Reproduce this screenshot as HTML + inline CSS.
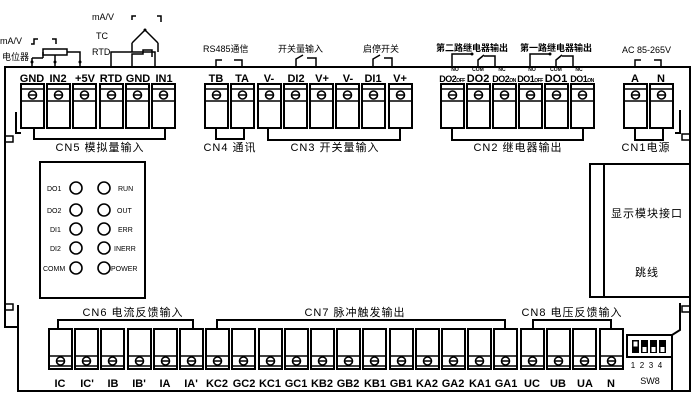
<!DOCTYPE html>
<html><head><meta charset="utf-8"><style>
html,body{margin:0;padding:0;background:#fff;width:699px;height:401px;overflow:hidden}
svg{display:block}
text{font-family:"Liberation Sans","Noto Sans CJK SC",sans-serif;fill:#000}
.b{font-weight:bold;font-size:11px}
.c{font-size:11px}
.s{font-size:8px}
</style></head><body>
<svg width="699" height="401" viewBox="0 0 699 401" xmlns="http://www.w3.org/2000/svg">
<defs>
<g id="tt" fill="none" stroke="#000">
<rect x="0" y="0" width="23" height="44" stroke-width="2"/>
<line x1="0" y1="5" x2="23" y2="5" stroke-width="1.5"/>
<line x1="0" y1="17" x2="23" y2="17" stroke-width="1.5"/>
<circle cx="11.5" cy="11" r="4" stroke-width="1.6"/>
<line x1="7.5" y1="11" x2="15.5" y2="11" stroke-width="1.5"/>
</g>
<g id="bt" fill="none" stroke="#000">
<rect x="0" y="0" width="23" height="40" stroke-width="2"/>
<line x1="0" y1="27" x2="23" y2="27" stroke-width="1.5"/>
<line x1="0" y1="37" x2="23" y2="37" stroke-width="1.5"/>
<circle cx="11.5" cy="32" r="4" stroke-width="1.6"/>
<line x1="7.5" y1="32" x2="15.5" y2="32" stroke-width="1.5"/>
</g>
</defs>
<g fill="none" stroke="#000" stroke-width="2">
<path d="M5,67 H690 V391 H18 V327 H5 Z"/>
<path d="M16,112 V133 H21 M18,305 V327"/>
<path d="M680,110 V133 H675 M680,303 V330 L672,335 V391"/>
<path d="M5,136 h8 v6 h-8 M5,304 h8 v6 h-8 M690,134 h-8 v6 h8 M690,306 h-8 v6 h8" stroke-width="1.5"/>
<rect x="40" y="162" width="105" height="136"/>
<rect x="590" y="164" width="100" height="133"/>
<line x1="604" y1="164" x2="604" y2="297"/>
<path d="M34,128 V139 H165 V128"/>
<path d="M216,128 V139 H244 V128"/>
<path d="M268,128 V140 H400 V128"/>
<path d="M452,128 V140 H583 V128"/>
<path d="M635,128 V140 H663 V128"/>
<path d="M58,330 V320 H193 V330"/>
<path d="M217,330 V320 H505 V330"/>
<path d="M533,330 V320 H611 V330"/>
<rect x="627" y="335" width="45" height="22"/>
</g>
<g fill="#000">
<rect x="632" y="340" width="7" height="13"/><rect x="641" y="340" width="7" height="13"/><rect x="650" y="340" width="7" height="13"/><rect x="659" y="340" width="7" height="13"/>
</g>
<g fill="#fff"><rect x="633.5" y="341.5" width="4" height="5"/><rect x="642.5" y="347" width="4" height="5"/><rect x="651.5" y="347" width="4" height="5"/><rect x="660.5" y="347" width="4" height="5"/></g>
<g transform="translate(0,84)">
<use href="#tt" x="21"/><use href="#tt" x="47"/><use href="#tt" x="73"/><use href="#tt" x="100"/><use href="#tt" x="126"/><use href="#tt" x="152"/>
<use href="#tt" x="205"/><use href="#tt" x="231"/><use href="#tt" x="258"/><use href="#tt" x="284"/><use href="#tt" x="310"/><use href="#tt" x="336"/><use href="#tt" x="362"/><use href="#tt" x="389"/>
<use href="#tt" x="441"/><use href="#tt" x="467"/><use href="#tt" x="493"/><use href="#tt" x="519"/><use href="#tt" x="545"/><use href="#tt" x="571"/>
<use href="#tt" x="624"/><use href="#tt" x="650"/>
</g>
<g transform="translate(0,329)">
<use href="#bt" x="49"/><use href="#bt" x="75"/><use href="#bt" x="101"/><use href="#bt" x="128"/><use href="#bt" x="154"/><use href="#bt" x="180"/><use href="#bt" x="206"/><use href="#bt" x="232"/><use href="#bt" x="259"/><use href="#bt" x="285"/><use href="#bt" x="311"/><use href="#bt" x="337"/><use href="#bt" x="363"/><use href="#bt" x="390"/><use href="#bt" x="416"/><use href="#bt" x="442"/><use href="#bt" x="468"/><use href="#bt" x="494"/><use href="#bt" x="521"/><use href="#bt" x="547"/><use href="#bt" x="573"/><use href="#bt" x="600"/>
</g>
<g class="b" text-anchor="middle">
<text x="32" y="82">GND</text><text x="58" y="82">IN2</text><text x="85" y="82">+5V</text><text x="111" y="82">RTD</text><text x="138" y="82">GND</text><text x="164" y="82">IN1</text>
<text x="216" y="82">TB</text><text x="242" y="82">TA</text><text x="269" y="82">V-</text><text x="296" y="82">DI2</text><text x="322" y="82">V+</text><text x="348" y="82">V-</text><text x="373" y="82">DI1</text><text x="400" y="82">V+</text>
<text x="452" y="82" font-size="9" letter-spacing="-0.5">DO2<tspan font-size="5">OFF</tspan></text><text x="478" y="82">DO2</text><text x="504" y="82" font-size="9" letter-spacing="-0.5">DO2<tspan font-size="5">ON</tspan></text>
<text x="530" y="82" font-size="9" letter-spacing="-0.5">DO1<tspan font-size="5">OFF</tspan></text><text x="556" y="82">DO1</text><text x="582" y="82" font-size="9" letter-spacing="-0.5">DO1<tspan font-size="5">ON</tspan></text>
<text x="635" y="82">A</text><text x="661" y="82">N</text>
</g>
<g font-size="5" text-anchor="middle" font-weight="bold">
<text x="455" y="71">NO</text><text x="478" y="71">COM</text><text x="502" y="71">NC</text>
<text x="532" y="71">NO</text><text x="556" y="71">COM</text><text x="579" y="71">NC</text>
</g>
<g class="b" text-anchor="middle">
<text x="60" y="387">IC</text><text x="87" y="387">IC'</text><text x="113" y="387">IB</text><text x="139" y="387">IB'</text><text x="165" y="387">IA</text><text x="191" y="387">IA'</text><text x="217" y="387">KC2</text><text x="244" y="387">GC2</text><text x="270" y="387">KC1</text><text x="296" y="387">GC1</text><text x="322" y="387">KB2</text><text x="348" y="387">GB2</text><text x="375" y="387">KB1</text><text x="401" y="387">GB1</text><text x="427" y="387">KA2</text><text x="453" y="387">GA2</text><text x="480" y="387">KA1</text><text x="506" y="387">GA1</text><text x="532" y="387">UC</text><text x="558" y="387">UB</text><text x="585" y="387">UA</text><text x="611" y="387">N</text>
</g>
<g class="s" text-anchor="middle"><text x="633" y="368">1</text><text x="642" y="368">2</text><text x="651" y="368">3</text><text x="660" y="368">4</text><text x="650" y="384" font-size="9">SW8</text></g>
<g class="c" text-anchor="middle" letter-spacing="1">
<text x="100" y="151">CN5 模拟量输入</text>
<text x="230" y="151">CN4 通讯</text>
<text x="335" y="151">CN3 开关量输入</text>
<text x="518" y="151">CN2 继电器输出</text>
<text x="646" y="151">CN1电源</text>
<text x="133" y="316">CN6 电流反馈输入</text>
<text x="355" y="316">CN7 脉冲触发输出</text>
<text x="572" y="316">CN8 电压反馈输入</text>
<text x="647" y="217">显示模块接口</text>
<text x="647" y="276">跳线</text>
</g>
<g fill="none" stroke="#000" stroke-width="1.6">
<circle cx="76" cy="188" r="6"/><circle cx="104" cy="188" r="6"/>
<circle cx="76" cy="210" r="6"/><circle cx="104" cy="210" r="6"/>
<circle cx="76" cy="229" r="6"/><circle cx="104" cy="229" r="6"/>
<circle cx="76" cy="248" r="6"/><circle cx="104" cy="248" r="6"/>
<circle cx="76" cy="268" r="6"/><circle cx="104" cy="268" r="6"/>
</g>
<g font-size="7">
<text x="47" y="191">DO1</text><text x="47" y="213">DO2</text><text x="50" y="232">DI1</text><text x="50" y="251">DI2</text><text x="43" y="271">COMM</text>
<text x="118" y="191">RUN</text><text x="117" y="213">OUT</text><text x="118" y="232">ERR</text><text x="114" y="251">INERR</text><text x="111" y="271">POWER</text>
</g>
<g font-size="9">
<text x="0" y="44">mA/V</text><text x="2" y="60">电位器</text>
<text x="92" y="20">mA/V</text><text x="96" y="39">TC</text><text x="92" y="55">RTD</text>
<text x="203" y="52">RS485通信</text><text x="278" y="52">开关量输入</text><text x="363" y="52">启停开关</text>
<text x="436" y="51" font-weight="bold">第二路继电器输出</text><text x="520" y="51" font-weight="bold">第一路继电器输出</text>
<text x="622" y="53">AC 85-265V</text>
</g>
<g fill="none" stroke="#000" stroke-width="1.5">
<path d="M32,67 V58 M31,44 h3 v-5 h4 M52,39 h4 v5"/>
<path d="M32,58 H43 M43,52 V58"/>
<rect x="43" y="49" width="24" height="6"/>
<path d="M67,52 H80 V67 M55,55 V67"/>
<path d="M111,67 V52 H155 V67 M132,67 V54 H143 V50 H152 V57"/>
<path d="M132,43 L145,30 L158,43 M132,43 V52 M158,43 V52"/>
<path d="M132,20 V16 h4 M157,16 h4 V22"/>
<path d="M216,67 V60 h6 M234,60 h8 V67"/>
<path d="M296,67 V59 L303,55 M307,58 h9 V67"/>
<path d="M373,67 V59 L380,55 M384,58 h8 V67"/>
<path d="M452,67 V54 H472 M478,67 V60 L484,55 M484,56 H495 V67"/>
<path d="M530,67 V54 H550 M556,67 V60 L562,55 M562,56 H573 V67"/>
<path d="M635,67 V60 h6 M654,60 h7 V67"/>
</g>
<g fill="#000"><circle cx="32" cy="62" r="1.5"/><circle cx="55" cy="62" r="1.5"/><circle cx="80" cy="62" r="1.5"/><circle cx="145" cy="30" r="1.5"/><circle cx="472" cy="54" r="1.5"/><circle cx="550" cy="54" r="1.5"/></g>
</svg>
</body></html>
